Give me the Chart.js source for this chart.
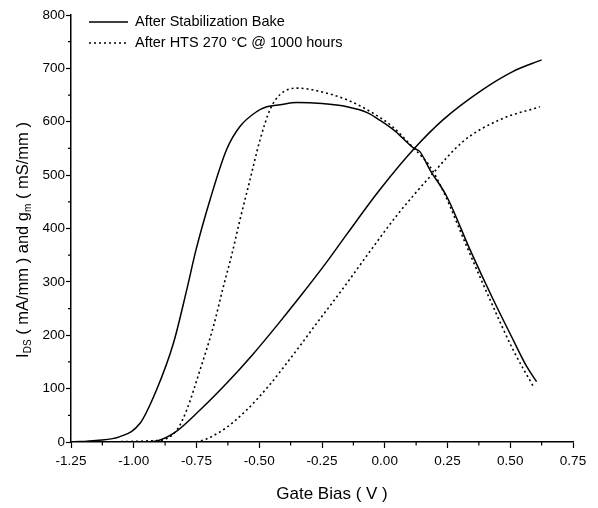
<!DOCTYPE html>
<html lang="en">
<head>
  <meta charset="UTF-8" />
  <title>IDS and gm vs Gate Bias</title>
  <script src="https://cdn.jsdelivr.net/npm/chart.js"></script>
  <style>
    html, body { margin: 0; padding: 0; background: #fff; }
    #wrap { width: 598px; height: 508px; }
  </style>
</head>
<body>
  <div id="wrap"><canvas id="biasChart" width="598" height="508"></canvas></div>

  <script>
    // legend labels
    const seriesNames = ['After Stabilization Bake', 'After HTS 270 \u00B0C @ 1000 hours'];

    // I_DS after stabilization bake (solid)
    const biasIdsBake = [-1.25, -1.00, -0.922, -0.842, -0.736, -0.63, -0.524, -0.43, -0.338, -0.23, -0.15, -0.019, 0.114, 0.233, 0.38, 0.51, 0.625];
    const idsBake     = [0, 0, 1, 16, 60, 110, 165, 218, 272, 338, 390, 473, 548, 604, 657, 694, 716];

    // g_m after stabilization bake (solid)
    const biasGmBake = [-1.25, -1.15, -1.055, -0.975, -0.909, -0.842, -0.789, -0.752, -0.696, -0.63, -0.577, -0.51, -0.47, -0.417, -0.35, -0.25, -0.15, -0.07, -0.02, 0.04, 0.114, 0.14, 0.18, 0.247, 0.34, 0.433, 0.512, 0.566, 0.605];
    const gmBake     = [0, 3, 10, 35, 98, 185, 285, 360, 454, 548, 591, 619, 628, 632, 636, 634, 628, 617, 603, 583, 551, 544, 510, 460, 360, 266, 191, 141, 113];

    // I_DS after HTS (dotted)
    const biasIdsHts = [-1.25, -0.85, -0.763, -0.656, -0.55, -0.457, -0.39, -0.338, -0.286, -0.15, -0.07, 0.049, 0.18, 0.312, 0.459, 0.618];
    const idsHts     = [0, 0, 0, 19, 60, 108, 148, 180, 213, 298, 350, 425, 497, 563, 604, 628];

    // g_m after HTS (dotted)
    const biasGmHts = [-1.25, -0.90, -0.829, -0.789, -0.736, -0.683, -0.643, -0.61, -0.577, -0.537, -0.497, -0.457, -0.417, -0.35, -0.29, -0.15, -0.05, 0.03, 0.11, 0.18, 0.234, 0.327, 0.42, 0.512, 0.592];
    const gmHts     = [0, 3, 22, 60, 135, 216, 291, 350, 416, 491, 566, 623, 651, 663, 660, 641, 617, 591, 553, 516, 469, 366, 266, 172, 104];

    // axis ticks
    const xTicks = [-1.25, -1.00, -0.75, -0.50, -0.25, 0.00, 0.25, 0.50, 0.75];
    const yTicks = [0, 100, 200, 300, 400, 500, 600, 700, 800];

    function pts(xs, ys) {
      return xs.map((x, i) => ({ x: x, y: ys[i] }));
    }

    const FONT = '"Liberation Sans", Arial, Helvetica, sans-serif';
    const DOTS = [2, 3];

    function curve(data, dashed) {
      return {
        data: data,
        borderColor: '#000',
        borderWidth: dashed ? 1.6 : 1.5,
        borderDash: dashed ? DOTS : [],
        pointRadius: 0,
        fill: false,
        cubicInterpolationMode: 'monotone'
      };
    }

    // minor ticks, axis titles (y one has subscripts), inline legend
    const extras = {
      id: 'extras',
      afterDraw(chart) {
        const ctx = chart.ctx;
        const xs = chart.scales.x, ys = chart.scales.y;
        const area = chart.chartArea;
        ctx.save();
        ctx.strokeStyle = '#000';
        ctx.lineWidth = 1.2;
        ctx.beginPath();
        for (let i = 0; i < xTicks.length - 1; i++) {
          const px = xs.getPixelForValue((xTicks[i] + xTicks[i + 1]) / 2);
          ctx.moveTo(px, area.bottom);
          ctx.lineTo(px, area.bottom + 3.5);
        }
        for (let i = 0; i < yTicks.length - 1; i++) {
          const py = ys.getPixelForValue((yTicks[i] + yTicks[i + 1]) / 2);
          ctx.moveTo(area.left, py);
          ctx.lineTo(area.left - 3, py);
        }
        ctx.stroke();

        // x title
        ctx.fillStyle = '#000';
        ctx.font = '17px ' + FONT;
        ctx.textAlign = 'center';
        ctx.textBaseline = 'middle';
        ctx.fillText('Gate Bias ( V )', 332, 494);

        // y title
        const parts = [
          ['I', false], ['DS', true], [' ( mA/mm ) and g', false], ['m', true], [' ( mS/mm )', false]
        ];
        const big = '16.5px ' + FONT, small = '10px ' + FONT;
        let total = 0;
        parts.forEach(p => { ctx.font = p[1] ? small : big; total += ctx.measureText(p[0]).width; });
        ctx.translate(28, 240);
        ctx.rotate(-Math.PI / 2);
        ctx.textBaseline = 'alphabetic';
        ctx.textAlign = 'left';
        let cx = -total / 2;
        parts.forEach(p => {
          ctx.font = p[1] ? small : big;
          ctx.fillText(p[0], cx, p[1] ? 3 : 0);
          cx += ctx.measureText(p[0]).width;
        });
        ctx.restore();

        // legend
        ctx.save();
        ctx.strokeStyle = '#000';
        ctx.fillStyle = '#000';
        ctx.font = '14.5px ' + FONT;
        ctx.textBaseline = 'middle';
        seriesNames.forEach((name, i) => {
          const ly = 22 + i * 21;
          ctx.beginPath();
          ctx.lineWidth = 1.5;
          ctx.setLineDash(i === 0 ? [] : DOTS);
          ctx.moveTo(89, ly);
          ctx.lineTo(128, ly);
          ctx.stroke();
          ctx.fillText(name, 135, ly);
        });
        ctx.restore();
      }
    };

    new Chart(document.getElementById('biasChart'), {
      type: 'line',
      data: {
        datasets: [
          curve(pts(biasIdsBake, idsBake), false),
          curve(pts(biasGmBake, gmBake), false),
          curve(pts(biasIdsHts, idsHts), true),
          curve(pts(biasGmHts, gmHts), true)
        ]
      },
      options: {
        responsive: false,
        animation: false,
        layout: { padding: { top: 15, right: 25, left: 0, bottom: 0 } },
        plugins: { legend: { display: false }, tooltip: { enabled: false } },
        scales: {
          x: {
            type: 'linear',
            min: -1.25,
            max: 0.75,
            afterBuildTicks: s => { s.ticks = xTicks.map(v => ({ value: v })); },
            afterFit: s => { s.height = 66; },
            border: { color: '#000', width: 1.5 },
            grid: { drawOnChartArea: false, color: '#000', tickLength: 6, tickWidth: 1.2 },
            ticks: {
              color: '#000',
              padding: 5,
              font: { family: FONT, size: 13.5 },
              callback: v => v.toFixed(2)
            }
          },
          y: {
            type: 'linear',
            min: 0,
            max: 800,
            afterBuildTicks: s => { s.ticks = yTicks.map(v => ({ value: v })); },
            afterFit: s => { s.width = 71; },
            border: { color: '#000', width: 1.5 },
            grid: { drawOnChartArea: false, color: '#000', tickLength: 5, tickWidth: 1.2 },
            ticks: {
              color: '#000',
              padding: 1,
              font: { family: FONT, size: 13.5 }
            }
          }
        }
      },
      plugins: [extras]
    });
  </script>
</body>
</html>
